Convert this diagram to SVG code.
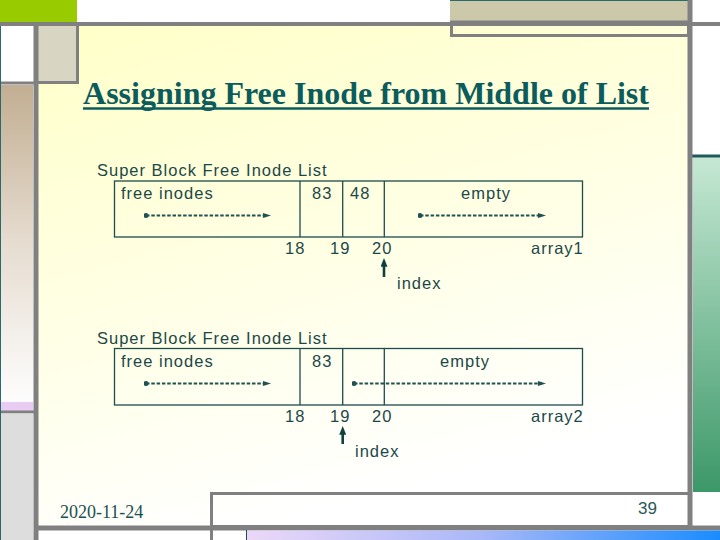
<svg xmlns="http://www.w3.org/2000/svg" width="720" height="540" viewBox="0 0 720 540">
<defs>
<linearGradient id="yel" x1="0" y1="0" x2="0.35" y2="1"><stop offset="0" stop-color="#FFFFC8"/><stop offset="0.6" stop-color="#FFFFE8"/><stop offset="1" stop-color="#FFFFFF"/></linearGradient>
<linearGradient id="tan" x1="0" y1="0" x2="0" y2="1"><stop offset="0" stop-color="#C2AE92"/><stop offset="0.5" stop-color="#E6DCD0"/><stop offset="1" stop-color="#FDFDFD"/></linearGradient>
<linearGradient id="grn" x1="0" y1="0" x2="0" y2="1"><stop offset="0" stop-color="#C6E8D4"/><stop offset="1" stop-color="#3C9868"/></linearGradient>
<linearGradient id="blu" x1="0" y1="0" x2="1" y2="0"><stop offset="0" stop-color="#ECD8F8"/><stop offset="0.5" stop-color="#A8B8F8"/><stop offset="1" stop-color="#1A8CFF"/></linearGradient>
<marker id="dot" viewBox="0 0 6 6" refX="3" refY="3" markerWidth="5" markerHeight="5" markerUnits="userSpaceOnUse"><circle cx="3" cy="3" r="3" fill="#1f5252"/></marker>
<marker id="dotE" viewBox="0 0 8 6" refX="4" refY="3" markerWidth="8" markerHeight="6" markerUnits="userSpaceOnUse" orient="auto"><path d="M0,0.5 L8,3 L0,5.5 Z" fill="#1f5252"/></marker>
<marker id="up" viewBox="0 0 10 8" refX="2" refY="4" markerWidth="9" markerHeight="7" markerUnits="userSpaceOnUse" orient="auto"><path d="M0,0 L10,4 L0,8 Z" fill="#0f4040"/></marker>
</defs>
<style>
.gl{stroke:#808080;fill:none}
.t{font-family:"Liberation Sans",Arial,sans-serif;font-size:16.5px;letter-spacing:1px;fill:#1c4848}
.box{fill:none;stroke:#1c4c4c;stroke-width:1.3}
.dv{stroke:#1c4c4c;stroke-width:1.3}
.da{stroke:#1f5252;stroke-width:2;stroke-dasharray:3.5,1.8;marker-start:url(#dot);marker-end:url(#dotE)}
.ar{stroke:#0f4040;stroke-width:2.6}
</style>
<rect width="720" height="540" fill="#FFFFFF"/>
<rect x="38" y="25" width="651" height="502" fill="url(#yel)"/>
<rect x="0" y="0" width="77" height="22" fill="#99CC00"/>
<rect x="450" y="0" width="238" height="22" fill="#CCC8AA"/>
<line x1="450" y1="0.5" x2="688" y2="0.5" stroke="#2a6a6a" stroke-width="1"/>
<rect x="451.5" y="22" width="237" height="13.5" class="gl" stroke-width="3"/>
<rect x="38" y="25" width="39" height="57" fill="#D8D6C2"/>
<line x1="77.5" y1="24" x2="77.5" y2="83" class="gl" stroke-width="3"/>
<line x1="36" y1="82.5" x2="79" y2="82.5" class="gl" stroke-width="3"/>
<line x1="0" y1="83" x2="34" y2="83" class="gl" stroke-width="3"/>
<rect x="0" y="85" width="33" height="317" fill="url(#tan)"/>
<rect x="0" y="402" width="33" height="9" fill="#E8CCF4"/>
<line x1="0" y1="412" x2="34" y2="412" class="gl" stroke-width="3"/>
<rect x="0" y="413.5" width="33" height="127" fill="#DDDDDD"/>
<line x1="0.5" y1="25" x2="0.5" y2="540" stroke="#2a6a6a" stroke-width="1"/>
<rect x="693" y="157" width="27" height="335" fill="url(#grn)"/>
<line x1="690" y1="156" x2="720" y2="156" stroke="#1e5a5a" stroke-width="3"/>
<line x1="0" y1="24" x2="720" y2="24" class="gl" stroke-width="4"/>
<line x1="36" y1="22" x2="36" y2="540" class="gl" stroke-width="5"/>
<line x1="690" y1="0" x2="690" y2="528" class="gl" stroke-width="5"/>
<rect x="211.5" y="493.5" width="478" height="33" fill="#FFFFFF" class="gl" stroke-width="3"/>
<line x1="38" y1="528" x2="720" y2="528" class="gl" stroke-width="5"/>
<line x1="211.5" y1="526" x2="211.5" y2="540" class="gl" stroke-width="3"/>
<rect x="246" y="530.5" width="474" height="10" fill="url(#blu)"/>
<line x1="246.5" y1="530" x2="246.5" y2="540" stroke="#1e4a5a" stroke-width="1"/>

<g id="title">
<text x="366" y="104" text-anchor="middle" font-family="Liberation Serif,'Times New Roman',serif" font-weight="bold" font-size="32" fill="#0b5c5c">Assigning Free Inode from Middle of List</text>
<line x1="83" y1="108.5" x2="649" y2="108.5" stroke="#0b5c5c" stroke-width="2.5"/>
</g>

<g id="list1">
<text class="t" x="97" y="176">Super Block Free Inode List</text>
<rect class="box" x="114.5" y="181" width="468" height="56"/>
<line class="dv" x1="300" y1="181" x2="300" y2="237"/>
<line class="dv" x1="342.7" y1="181" x2="342.7" y2="237"/>
<line class="dv" x1="384.3" y1="181" x2="384.3" y2="237"/>
<text class="t" x="121" y="199">free inodes</text>
<text class="t" x="312" y="199">83</text>
<text class="t" x="350" y="199">48</text>
<text class="t" x="486" y="199" text-anchor="middle">empty</text>
<text class="t" x="285" y="254">18</text>
<text class="t" x="330" y="254">19</text>
<text class="t" x="372" y="254">20</text>
<text class="t" x="531" y="254">array1</text>
<text class="t" x="397" y="289">index</text>
</g>

<g id="list2">
<text class="t" x="97" y="344">Super Block Free Inode List</text>
<rect class="box" x="114.5" y="348.5" width="468" height="56.5"/>
<line class="dv" x1="300" y1="348.5" x2="300" y2="405"/>
<line class="dv" x1="342.7" y1="348.5" x2="342.7" y2="405"/>
<line class="dv" x1="384.3" y1="348.5" x2="384.3" y2="405"/>
<text class="t" x="121" y="367">free inodes</text>
<text class="t" x="312" y="367">83</text>
<text class="t" x="465" y="367" text-anchor="middle">empty</text>
<text class="t" x="285" y="422">18</text>
<text class="t" x="330" y="422">19</text>
<text class="t" x="372" y="422">20</text>
<text class="t" x="531" y="422">array2</text>
<text class="t" x="355" y="457">index</text>
</g>

<g id="connectors">
<line class="da" x1="146" y1="215.5" x2="267" y2="215.5"/>
<line class="da" x1="420" y1="215.5" x2="542" y2="215.5"/>
<line class="ar" x1="384" y1="277" x2="384" y2="265" marker-end="url(#up)"/>
<line class="da" x1="146" y1="383.5" x2="267" y2="383.5"/>
<line class="da" x1="354" y1="383.5" x2="542" y2="383.5"/>
<line class="ar" x1="342.7" y1="444" x2="342.7" y2="433" marker-end="url(#up)"/>
</g>

<g id="footer">
<text x="60" y="518" font-family="Liberation Serif,'Times New Roman',serif" font-size="18" fill="#1a5050">2020-11-24</text>
<text x="638" y="514" font-family="Liberation Sans,Arial,sans-serif" font-size="17" fill="#2a5858">39</text>
</g>
</svg>
